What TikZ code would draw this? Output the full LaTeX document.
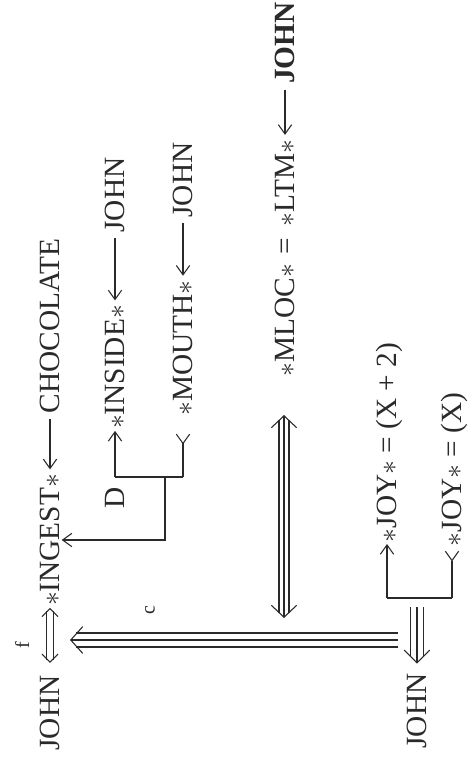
\documentclass[tikz,border=0pt]{standalone}
\usepackage{fontspec}
\setmainfont{Liberation Serif}
\usetikzlibrary{arrows.meta}
\definecolor{ink}{HTML}{2A2A2A}
\newcommand{\cdstar}{\ensuremath{\ast}}
\begin{document}
\begin{tikzpicture}[x=0.75pt,y=-0.75pt,
  every path/.style={draw=ink},
  lbl/.style={rotate=90, inner sep=0pt, outer sep=1.5pt, text=ink,
    font=\fontsize{22}{22}\selectfont, text height=14.5pt, text depth=0pt},
  smalllbl/.style={rotate=90, inner sep=0pt, text=ink, font=\fontsize{15}{15}\selectfont},
  ln/.style={line width=0.8pt},
  barb/.style={ln, -{Straight Barb[length=7pt,width=10pt]}},
  txtarr/.style={barb, shorten <=3pt, shorten >=2pt},
  tailY/.style={ln, {Straight Barb[reversed,length=7pt,width=10pt]}-},
  hidden/.style={dash pattern=on 0pt off 2000pt}
]
\useasboundingbox[fill=white,draw=none] (0,0) rectangle (473,764);

% line A
\node[lbl] (johnA) at (50,713) {JOHN};
\node[lbl] (ingest) at (50,540) {\cdstar INGEST\cdstar};
\node[lbl] (choc) at (50,326) {CHOCOLATE};
\node[smalllbl] (flab) at (22,645) {f};
\draw[txtarr] (choc.west) -- (ingest.east);

% f double arrow
\draw[ln, hidden, {Straight Barb[length=6pt,width=12pt]}-{Straight Barb[length=6pt,width=12pt]}, shorten <=8pt] (johnA.east) -- (ingest.west);
\draw[ln, shorten <=10.5pt, shorten >=2.5pt] ([xshift=2.3pt]johnA.east) -- ([xshift=2.3pt]ingest.west);
\draw[ln, shorten <=10.5pt, shorten >=2.5pt] ([xshift=-2.3pt]johnA.east) -- ([xshift=-2.3pt]ingest.west);

% line B and C with D bracket
\node[lbl] (D) at (115,498) {D};
\node[lbl] (inside) at (115,367) {\cdstar INSIDE\cdstar};
\node[lbl] (johnB) at (115,195) {JOHN};
\node[lbl] (mouth) at (183,348) {\cdstar MOUTH\cdstar};
\node[lbl] (johnC) at (183,180) {JOHN};
\draw[txtarr] (johnB.west) -- (inside.east);
\draw[txtarr] (johnC.west) -- (mouth.east);

\coordinate (dL) at (115,477);
\coordinate (dR) at (183,477);
\coordinate (dS) at (165,477);
\draw[ln] (dL) -- (dR);
\draw[barb] (dL) -- (inside.west);
\draw[tailY, shorten <=12pt] (mouth.west) -- (dR);
\draw[barb] (dS) |- (ingest.south);

% line D (MLOC)
\node[lbl] (mloc) at (285,320) {\cdstar MLOC\cdstar};
\node[lbl] (eq) at (285,246) {=};
\node[lbl] (ltm) at (285,183) {\cdstar LTM\cdstar};
\node[lbl] (johnD) at (285,43) {\bfseries JOHN};
\draw[txtarr] (johnD.west) -- (ltm.east);

\coordinate (mlocTop) at (284,415);
\coordinate (mlocLow) at (284,618);
\draw[ln, {Straight Barb[length=9pt,width=19pt]}-{Straight Barb[length=9pt,width=19pt]}] (mlocTop) -- (mlocLow);
\draw[ln, shorten <=3.6pt, shorten >=3.6pt] ([xshift=3.75pt]mlocTop) -- ([xshift=3.75pt]mlocLow);
\draw[ln, shorten <=3.6pt, shorten >=3.6pt] ([xshift=-3.75pt]mlocTop) -- ([xshift=-3.75pt]mlocLow);

% JOY lines
\node[lbl, anchor=west] (joy1) at (387,544) {\cdstar JOY\cdstar{} = (X + 2)};
\node[lbl, anchor=west] (joy2) at (452,548) {\cdstar JOY\cdstar{} = (X)};
\node[lbl] (johnE) at (417,711) {JOHN};

\coordinate (jL) at (387,598);
\coordinate (jR) at (452,598);
\coordinate (jM) at (417,598);
\draw[ln] (jL) -- (jR);
\draw[barb] (jL) -- (joy1.west);
\draw[tailY, shorten <=2pt] (joy2.west) -- (jR);

% triple JOY -> JOHN
\draw[ln, shorten <=7pt, shorten >=6pt, -{Straight Barb[length=9.5pt,width=19pt]}] (jM) -- (johnE.east);
\draw[ln, shorten <=7pt, shorten >=11pt] ([xshift=4.9pt]jM) -- ([xshift=4.9pt]johnE.east);
\draw[ln, shorten <=7pt, shorten >=11pt] ([xshift=-4.9pt]jM) -- ([xshift=-4.9pt]johnE.east);

% triple causal link c
\coordinate (cStart) at (398,640);
\coordinate (cTip) at (70,640);
\node[smalllbl] (clab) at (150,610) {c};
\draw[ln, -{Straight Barb[length=9pt,width=20pt]}] (cStart) -- (cTip);
\draw[ln, shorten >=4.7pt] ([yshift=5.25pt]cStart) -- ([yshift=5.25pt]cTip);
\draw[ln, shorten >=4.7pt] ([yshift=-5.25pt]cStart) -- ([yshift=-5.25pt]cTip);
\end{tikzpicture}
\end{document}
